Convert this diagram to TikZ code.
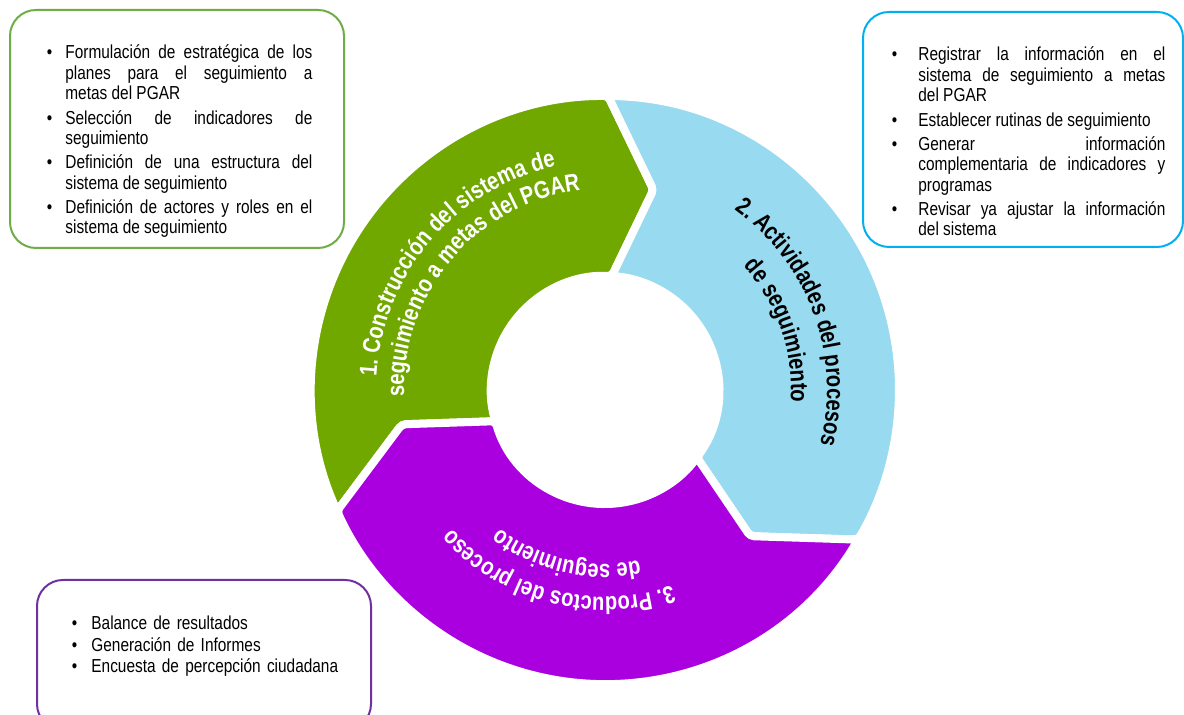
\documentclass[tikz,border=0pt]{standalone}
\usepackage{fontspec}
\setmainfont{Liberation Sans}[FakeStretch=0.82]
\newfontfamily\ringfamily{Liberation Sans}[FakeStretch=0.82]
\usetikzlibrary{decorations.text}
\definecolor{gfill}{RGB}{112,168,0}
\definecolor{bfill}{RGB}{152,218,240}
\definecolor{pfill}{RGB}{170,0,224}
\definecolor{gline}{RGB}{112,173,71}
\definecolor{bline}{RGB}{0,176,240}
\definecolor{pline}{RGB}{112,48,160}
\hyphenpenalty=10000 \exhyphenpenalty=10000 \tolerance=10000 \hbadness=10000
\newcommand\bul[2]{\noindent\llap{\textbullet\hskip#1}#2\par}
\newcommand\boxfont{\fontsize{9.4}{10.15}\selectfont}
\newcommand\ringfont{\ringfamily\fontsize{12.3}{15}\selectfont\bfseries}
\begin{document}
\begin{tikzpicture}[x=0.5pt,y=0.5pt,
  seg/.style={draw=white,line width=4pt,rounded corners=2pt},
  infobox/.style={line width=1pt,rounded corners=13pt},
  listtext/.style={anchor=base west,inner sep=0pt,text width=123.5pt,align=justify,font=\boxfont}]
\fill[white] (0,0) rectangle (1184,715);
\useasboundingbox (0,0) rectangle (1184,715);

% information boxes
\draw[infobox,draw=gline] (10,705) rectangle (344,467);
\draw[infobox,draw=bline] (863,703) rectangle (1183,468);
\draw[infobox,draw=pline] (37,135) rectangle (371,-15);

\node[listtext] (glist) at (65,656) {\setlength{\parskip}{2.1pt}%
\bul{6.6pt}{Formulación de estratégica de los\linebreak planes para el seguimiento a\linebreak metas del PGAR}%
\bul{6.6pt}{Selección de indicadores de\linebreak seguimiento}%
\bul{6.6pt}{Definición de una estructura del\linebreak sistema de seguimiento}%
\bul{6.6pt}{Definición de actores y roles en el\linebreak sistema de seguimiento}};

\node[listtext] (blist) at (918,654) {\setlength{\parskip}{2.1pt}%
\bul{10.6pt}{Registrar la información en el\linebreak sistema de seguimiento a metas\linebreak del PGAR}%
\bul{10.6pt}{Establecer rutinas de seguimiento}%
\bul{10.6pt}{Generar información\linebreak complementaria de indicadores y\linebreak programas}%
\bul{10.6pt}{Revisar ya ajustar la información\linebreak del sistema}};

\node[listtext,align=left] (plist) at (91,85) {\setlength{\parskip}{0.6pt}%
\bul{7.1pt}{Balance de resultados}%
\bul{7.1pt}{Generación de Informes}%
\bul{7.1pt}{Encuesta de percepción ciudadana}};

% cycle ring
\begin{scope}[shift={(605,325)}]
\path[seg,fill=gfill] (204.3:294) arc[start angle=204.3,end angle=89.4,radius=294]
  -- (76.4:206) -- (86.6:114) arc[start angle=86.6,end angle=195.9,radius=114]
  -- (189.6:206) -- cycle;
\path[seg,fill=bfill] (89.4:294) arc[start angle=89.4,end angle=-30.6,radius=294]
  -- (-45.2:206) -- (-36.3:114) arc[start angle=-36.3,end angle=86.6,radius=114]
  -- (76.4:206) -- cycle;
\path[seg,fill=pfill] (-30.6:294) arc[start angle=-30.6,end angle=-155.7,radius=294]
  -- (-170.4:206) -- (-164.1:114) arc[start angle=-164.1,end angle=-36.3,radius=114]
  -- (-45.2:206) -- cycle;

\path[decorate,decoration={text along path,text align=center,text color=white,
  text={|\ringfont|1. Construcción del sistema de}}]
  (209.5:229) arc[start angle=209.5,end angle=69.5,radius=229];
\path[decorate,decoration={text along path,text align=center,text color=white,
  text={|\ringfont|seguimiento a metas del PGAR}}]
  (209.5:201) arc[start angle=209.5,end angle=69.5,radius=201];

\path[decorate,decoration={text along path,text align=center,text color=black,
  text={|\ringfont|2. Actividades del procesos}}]
  (90:222) arc[start angle=90,end angle=-50,radius=222];
\path[decorate,decoration={text along path,text align=center,text color=black,
  text={|\ringfont|de seguimiento}}]
  (89:186) arc[start angle=89,end angle=-51,radius=186];

\path[decorate,decoration={text along path,text align=center,text color=white,
  text={|\ringfont|3. Productos del proceso}}]
  (-34.5:207) arc[start angle=-34.5,end angle=-174.5,radius=207];
\path[decorate,decoration={text along path,text align=center,text color=white,
  text={|\ringfont|de seguimiento}}]
  (-33:174) arc[start angle=-33,end angle=-173,radius=174];
\end{scope}
\end{tikzpicture}
\end{document}
